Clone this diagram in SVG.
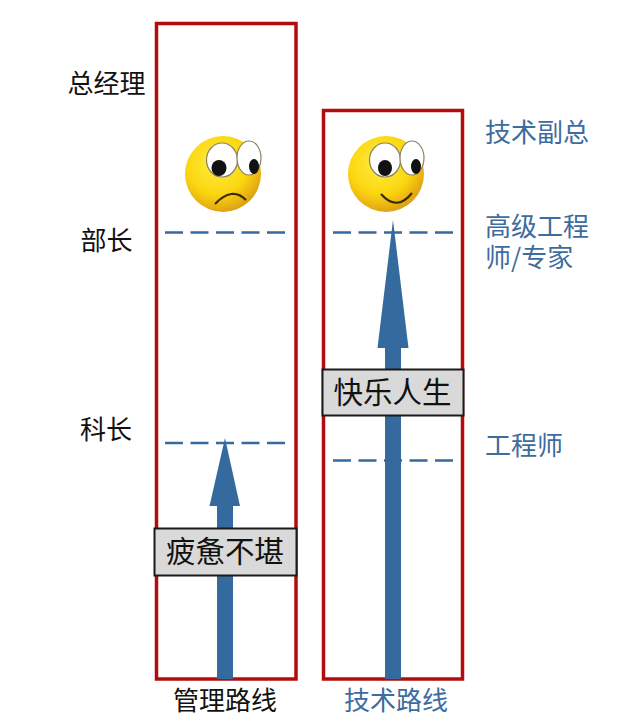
<svg xmlns="http://www.w3.org/2000/svg" width="640" height="719" viewBox="0 0 640 719">
<defs>
<radialGradient id="face" cx="0.42" cy="0.36" r="0.68">
<stop offset="0" stop-color="#ffee44"/><stop offset="0.6" stop-color="#fbd60f"/><stop offset="0.88" stop-color="#e6ac12"/><stop offset="1" stop-color="#cf9a20"/>
</radialGradient>
</defs>
<style>
text{font-family:"Noto Sans CJK SC","Noto Sans CJK JP",sans-serif;font-weight:400}
.lane{fill:#fff;stroke:#b30c0c;stroke-width:3.500}
.arrow{fill:#356a9e}
.dash{fill:none;stroke:#356a9e;stroke-width:2.400;stroke-dasharray:18 7.500}
.box{fill:#d9d9d9;stroke:#1a1a1a;stroke-width:2}
.k{fill:#111;font-size:26px;text-anchor:middle}
.b{fill:#3d6c9e;font-size:26px;text-anchor:start}
.boxt{fill:#111;font-size:29.500px;text-anchor:middle}
.eye{fill:#fff;stroke:#8a8060;stroke-width:1.200}
.pupil{fill:#111}
.mouth{fill:none;stroke:#3a2a05;stroke-width:2.200}
</style>
<g id="lane-management"><rect class="lane" x="156.500" y="23.500" width="139.500" height="655.500"/></g>
<g id="lane-technical"><rect class="lane" x="323.500" y="110.500" width="139" height="568.500"/></g>
<g id="connectors">
<path class="arrow" d="M225 438L240 506H233V679H217V506H209.500Z"/>
<path class="arrow" d="M393 220L408.500 348H401V679H385V348H377.500Z"/>
<path class="dash" d="M165 232.500H288"/>
<path class="dash" d="M333 232.500H455"/>
<path class="dash" d="M165 443H288"/>
<path class="dash" d="M333 460.500H455"/>
</g>
<g id="face-sad">
<circle cx="223" cy="174" r="38" fill="url(#face)"/>
<ellipse class="eye" cx="222" cy="160" rx="15.500" ry="17"/>
<ellipse class="eye" cx="249" cy="158" rx="12" ry="17"/>
<ellipse class="pupil" cx="219" cy="168" rx="7.500" ry="8"/>
<ellipse class="pupil" cx="254" cy="166.500" rx="5" ry="7.500"/>
<path class="mouth" d="M215 204Q232 186 246 200"/>
</g>
<g id="face-happy">
<circle cx="386" cy="174" r="38" fill="url(#face)"/>
<ellipse class="eye" cx="385" cy="160" rx="15.500" ry="17"/>
<ellipse class="eye" cx="412" cy="158" rx="12" ry="17"/>
<ellipse class="pupil" cx="385" cy="168" rx="7" ry="8"/>
<ellipse class="pupil" cx="416" cy="166.500" rx="5" ry="7.500"/>
<path class="mouth" d="M381 194Q397 212 412 193"/>
</g>
<g id="label-tired"><rect class="box" x="154.500" y="528.500" width="142" height="47"/><text class="boxt" x="225" y="562">疲惫不堪</text></g>
<g id="label-happy"><rect class="box" x="322.500" y="369.500" width="141" height="46"/><text class="boxt" x="392.500" y="403">快乐人生</text></g>
<g id="levels-management">
<text class="k" x="106.500" y="93">总经理</text>
<text class="k" x="106.500" y="250">部长</text>
<text class="k" x="106" y="439">科长</text>
<text class="k" x="225" y="710">管理路线</text>
</g>
<g id="levels-technical">
<text class="b" x="485" y="142">技术副总</text>
<text class="b" x="485" y="236">高级工程<tspan x="485" y="267">师/专家</tspan></text>
<text class="b" x="485" y="455">工程师</text>
<text class="b" x="344" y="710">技术路线</text>
</g>
</svg>
